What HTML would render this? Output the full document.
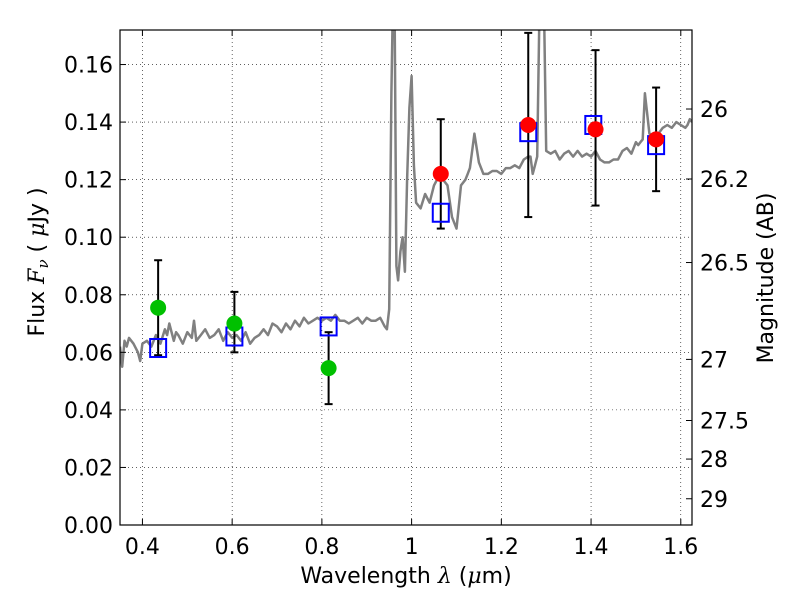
<!DOCTYPE html>
<html><head><meta charset="utf-8"><style>
body{margin:0;background:#fff;}
svg text{font-family:"DejaVu Sans","Liberation Sans",sans-serif;}
</style></head><body>
<svg id="chart" width="800" height="600" xmlns="http://www.w3.org/2000/svg"></svg>
<script>
const xTicks=[0.4,0.6,0.8,1.0,1.2,1.4,1.6];
const xTickLabels=["0.4","0.6","0.8","1","1.2","1.4","1.6"];
const yTicks=[0,0.02,0.04,0.06,0.08,0.10,0.12,0.14,0.16];
const yTickLabels=["0.00","0.02","0.04","0.06","0.08","0.10","0.12","0.14","0.16"];
const magTicks=[26,26.2,26.5,27,27.5,28,29];
const magTickLabels=["26","26.2","26.5","27","27.5","28","29"];
const greenX=[0.435,0.605,0.815];
const greenY=[0.0755,0.070,0.0545];
const greenLo=[0.059,0.060,0.042];
const greenHi=[0.092,0.081,0.067];
const redX=[1.065,1.26,1.41,1.545];
const redY=[0.122,0.139,0.1375,0.134];
const redLo=[0.103,0.107,0.111,0.116];
const redHi=[0.141,0.171,0.165,0.152];
const modelX=[0.435,0.605,0.815,1.065,1.26,1.405,1.545];
const modelY=[0.0615,0.0655,0.069,0.1085,0.1365,0.139,0.132];
const specX=[0.35,0.355,0.36,0.365,0.37,0.38,0.39,0.395,0.40,0.41,0.42,0.43,0.44,0.45,0.455,0.46,0.47,0.475,0.48,0.49,0.50,0.51,0.515,0.52,0.53,0.54,0.55,0.56,0.57,0.58,0.59,0.60,0.61,0.62,0.63,0.64,0.65,0.66,0.67,0.68,0.69,0.70,0.71,0.72,0.73,0.74,0.75,0.76,0.77,0.78,0.79,0.80,0.81,0.82,0.83,0.84,0.85,0.86,0.87,0.88,0.89,0.90,0.91,0.92,0.93,0.94,0.945,0.95,0.955,0.958,0.962,0.966,0.97,0.975,0.98,0.985,0.99,0.995,1.0,1.005,1.01,1.02,1.03,1.04,1.05,1.06,1.07,1.08,1.09,1.10,1.11,1.12,1.125,1.13,1.14,1.15,1.155,1.16,1.17,1.18,1.19,1.20,1.21,1.22,1.23,1.24,1.25,1.26,1.265,1.27,1.275,1.28,1.285,1.29,1.295,1.30,1.31,1.32,1.33,1.34,1.35,1.36,1.37,1.38,1.39,1.40,1.41,1.42,1.43,1.44,1.45,1.46,1.47,1.48,1.49,1.50,1.505,1.51,1.515,1.52,1.53,1.54,1.55,1.56,1.57,1.58,1.59,1.60,1.61,1.615,1.62,1.625];
const specY=[0.062,0.055,0.064,0.062,0.065,0.063,0.060,0.057,0.063,0.064,0.062,0.066,0.063,0.068,0.066,0.070,0.064,0.067,0.066,0.063,0.067,0.065,0.071,0.064,0.066,0.068,0.065,0.066,0.068,0.064,0.067,0.065,0.066,0.064,0.067,0.063,0.065,0.066,0.068,0.066,0.070,0.069,0.067,0.070,0.068,0.071,0.069,0.072,0.070,0.071,0.072,0.071,0.072,0.071,0.073,0.071,0.071,0.070,0.071,0.072,0.070,0.072,0.071,0.071,0.072,0.069,0.068,0.075,0.15,0.18,0.18,0.09,0.085,0.095,0.10,0.088,0.12,0.145,0.156,0.125,0.112,0.110,0.115,0.112,0.118,0.121,0.120,0.118,0.107,0.103,0.118,0.120,0.122,0.124,0.136,0.126,0.124,0.122,0.122,0.123,0.123,0.122,0.124,0.124,0.125,0.124,0.127,0.128,0.128,0.122,0.125,0.128,0.18,0.18,0.18,0.13,0.129,0.13,0.127,0.129,0.130,0.128,0.130,0.128,0.129,0.128,0.130,0.127,0.126,0.126,0.127,0.127,0.130,0.131,0.129,0.133,0.132,0.133,0.134,0.150,0.136,0.135,0.136,0.138,0.139,0.138,0.140,0.139,0.138,0.139,0.141,0.140,0.140,0.150,0.161];

const L=120,R=692,T=30,B=525,XMIN=0.35,XMAX=1.625,YMIN=0,YMAX=0.172;
const sx=v=>L+(v-XMIN)/(XMAX-XMIN)*(R-L);
const sy=v=>B-(v-YMIN)/(YMAX-YMIN)*(B-T);
const magToFlux=m=>Math.pow(10,(23.9-m)/2.5);
const svg=document.getElementById('chart');
const NS='http://www.w3.org/2000/svg';
function mk(tag,attrs,parent){const e=document.createElementNS(NS,tag);for(const k in attrs)e.setAttribute(k,attrs[k]);(parent||svg).appendChild(e);return e;}

const defs=mk('clipPath',{id:'clip'});mk('rect',{x:L,y:T,width:R-L,height:B-T},defs);
const grid=mk('g',{});


xTicks.forEach(v=>{const x=sx(v);mk('line',{x1:x,x2:x,y1:T,y2:B,stroke:'#000','stroke-width':0.6,'stroke-dasharray':'1,3'},grid);});
yTicks.forEach(v=>{const y=sy(v);mk('line',{x1:L,x2:R,y1:y,y2:y,stroke:'#000','stroke-width':0.6,'stroke-dasharray':'1,3'},grid);});

const plot=mk('g',{'clip-path':'url(#clip)'});
let d='';specX.forEach((x,i)=>{d+=(i?'L':'M')+sx(x).toFixed(1)+','+sy(specY[i]).toFixed(1);});
const sp=mk('path',{d:d,fill:'none',stroke:'#808080','stroke-width':2.5,'stroke-linejoin':'round'},plot);



function errs(xs,lo,hi,name){xs.forEach((x,i)=>{const g=mk('g',{},plot);


const X=sx(x);mk('line',{x1:X,x2:X,y1:sy(lo[i]),y2:sy(hi[i]),stroke:'#000','stroke-width':2},g);
[lo[i],hi[i]].forEach(v=>mk('line',{x1:X-4,x2:X+4,y1:sy(v),y2:sy(v),stroke:'#000','stroke-width':2},g));});}
errs(greenX,greenLo,greenHi,'green');errs(redX,redLo,redHi,'red');
modelX.forEach((x,i)=>{const r=mk('rect',{x:sx(x)-8,y:sy(modelY[i])-9,width:16,height:18,fill:'none',stroke:'#0000ff','stroke-width':2},plot);

});
greenX.forEach((x,i)=>{const c=mk('circle',{cx:sx(x),cy:sy(greenY[i]),r:8,fill:'#00c000'},plot);

});
redX.forEach((x,i)=>{const c=mk('circle',{cx:sx(x),cy:sy(redY[i]),r:8,fill:'#ff0000'},plot);

});

const frame=mk('rect',{x:L,y:T,width:R-L,height:B-T,fill:'none',stroke:'#000','stroke-width':1.2});



const xa=mk('g',{});


xTicks.forEach((v,i)=>{const x=sx(v);mk('line',{x1:x,x2:x,y1:B,y2:B-6,stroke:'#000'},xa);mk('line',{x1:x,x2:x,y1:T,y2:T+6,stroke:'#000'},xa);
const t=mk('text',{x:x,y:B+29,'text-anchor':'middle','font-size':22},xa);t.textContent=xTickLabels[i];});
const ya=mk('g',{});


yTicks.forEach((v,i)=>{const y=sy(v);mk('line',{x1:L,x2:L+6,y1:y,y2:y,stroke:'#000'},ya);
const t=mk('text',{x:L-7,y:y+8,'text-anchor':'end','font-size':22},ya);t.textContent=yTickLabels[i];});
const ma=mk('g',{});


magTicks.forEach((m,i)=>{const y=sy(magToFlux(m));mk('line',{x1:R,x2:R-6,y1:y,y2:y,stroke:'#000'},ma);
const t=mk('text',{x:R+8,y:y+8,'font-size':22},ma);t.textContent=magTickLabels[i];});
</script>
<svg style="position:absolute;left:0;top:0" width="800" height="600" xmlns="http://www.w3.org/2000/svg">
<text x="406" y="583" text-anchor="middle" font-size="22" font-family="DejaVu Sans, sans-serif">Wavelength  <tspan font-style="italic" font-family="DejaVu Serif, serif">λ</tspan> (<tspan font-style="italic" font-family="DejaVu Serif, serif">μ</tspan>m)</text>
<text transform="translate(44,262) rotate(-90)" text-anchor="middle" font-size="22" font-family="DejaVu Sans, sans-serif">Flux  <tspan font-style="italic" font-family="DejaVu Serif, serif">F<tspan font-size="15" dy="4">ν</tspan></tspan><tspan dy="-4">  (  </tspan><tspan font-style="italic" font-family="DejaVu Serif, serif">μ</tspan>Jy )</text>
<text transform="translate(773,278) rotate(-90)" text-anchor="middle" font-size="22" font-family="DejaVu Sans, sans-serif">Magnitude (AB)</text>
</svg>
</body></html>
